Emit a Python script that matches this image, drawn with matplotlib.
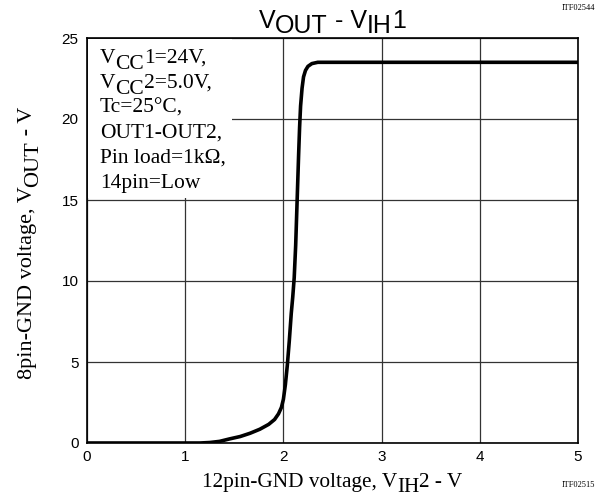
import numpy as np
import matplotlib
matplotlib.use("Agg")
import matplotlib.pyplot as plt
from matplotlib.patches import Rectangle
from matplotlib.transforms import offset_copy

# ── Data ─────────────────────────────────────────────────
vih = [0.0, 1.15, 1.25, 1.35, 1.45, 1.56, 1.66, 1.76, 1.85, 1.91, 1.95,
       1.98, 2.0, 2.02, 2.04, 2.06, 2.08, 2.095, 2.11, 2.125, 2.14, 2.155,
       2.165, 2.175, 2.19, 2.205, 2.225, 2.25, 2.29, 2.35, 2.5, 5.0]
vout = [0.0, 0.0, 0.03, 0.1, 0.25, 0.4, 0.6, 0.85, 1.15, 1.45, 1.8,
        2.2, 2.7, 3.6, 4.8, 6.3, 8.0, 9.0, 10.2, 12.2, 15.0, 17.8,
        19.5, 20.8, 21.9, 22.6, 23.0, 23.25, 23.42, 23.5, 23.5, 23.5]
x_ticks = [0, 1, 2, 3, 4, 5]
y_ticks = [0, 5, 10, 15, 20, 25]
conditions = [
    [("V", 0), ("CC", -6), ("1=24V,", 0)],
    [("V", 0), ("CC", -6), ("2=5.0V,", 0)],
    [("Tc=25°C,", 0)],
    [("OUT1-OUT2,", 0)],
    [("Pin load=1kΩ,", 0)],
    [("14pin=Low", 0)],
]

SANS = "Liberation Sans"
SERIF = "Liberation Serif"

fig = plt.figure(figsize=(6.03, 4.99), dpi=100)
ax = fig.add_axes([87 / 603, 1 - 443 / 499, 491 / 603, 405 / 499])


def rich_text(x, y, parts, size, family, transform, rotation=0, center=False, zorder=3):
    """Draw text pieces one after another, each shifted by dy pixels."""
    r = fig.canvas.get_renderer()
    texts, widths = [], []
    for s, dy in parts:
        t = fig.text(0, 0, s, fontsize=size, family=family, rotation=rotation,
                     ha="left", va="baseline", rotation_mode="anchor", zorder=zorder)
        ext = t.get_window_extent(r)
        widths.append(ext.height if rotation == 90 else ext.width)
        texts.append(t)
    pos = -sum(widths) / 2 if center else 0
    for t, w, (s, dy) in zip(texts, widths, parts):
        ox, oy = (-dy, pos) if rotation == 90 else (pos, dy)
        t.set_transform(offset_copy(transform, fig=fig, x=ox, y=oy, units="dots"))
        t.set_position((x, y))
        pos += w
    return texts


# ── Curve + grid ─────────────────────────────────────────
ax.plot(vih, vout, color="black", linewidth=2.6, solid_capstyle="round",
        solid_joinstyle="round", zorder=3)
ax.set_xlim(0, 5)
ax.set_ylim(0, 25)
ax.set_xticks(x_ticks)
ax.set_yticks(y_ticks)
ax.set_xticklabels([str(v) for v in x_ticks], family=SANS, fontsize=11)
ax.set_yticklabels([str(v) for v in y_ticks], family=SANS, fontsize=11)
ax.tick_params(length=0, pad=5)
ax.tick_params(axis="y", pad=6)
ax.grid(True, color="#333333", linewidth=0.9)
ax.set_axisbelow(True)
for sp in ax.spines.values():
    sp.set_linewidth(1.2)
    sp.set_zorder(5)

# white box behind the condition text
ax.add_patch(Rectangle((0.01, 15.15), 1.47, 9.8, facecolor="white",
                       edgecolor="none", zorder=2))

# ── Condition text ───────────────────────────────────────
px = fig.transFigure
for i, line in enumerate(conditions):
    base_y = 1 - (63 + 25 * i) / 499
    rich_text(100 / 603, base_y, line, 15.5, SERIF, px, zorder=4)

# ── Title and axis labels ────────────────────────────────
rich_text(332 / 603, 1 - 28 / 499,
          [("V", 0), ("OUT", -5), (" - V", 0), ("IH", -5), ("1", 0)],
          18, SANS, px, center=True)
rich_text(332 / 603, 1 - 487 / 499,
          [("12pin-GND voltage, V", 0), ("IH", -5), ("2 - V", 0)],
          15.3, SERIF, px, center=True)
rich_text(32 / 603, 1 - 243 / 499,
          [("8pin-GND voltage, V", 0), ("OUT", -6), (" - V", 0)],
          16, SERIF, px, rotation=90, center=True)

fig.text(595 / 603, 1 - 10 / 499, "ITF02544", family=SERIF, fontsize=6,
         ha="right", va="baseline")
fig.text(595 / 603, 1 - 487 / 499, "ITF02515", family=SERIF, fontsize=6,
         ha="right", va="baseline")

fig.savefig("out.png", dpi=100)
